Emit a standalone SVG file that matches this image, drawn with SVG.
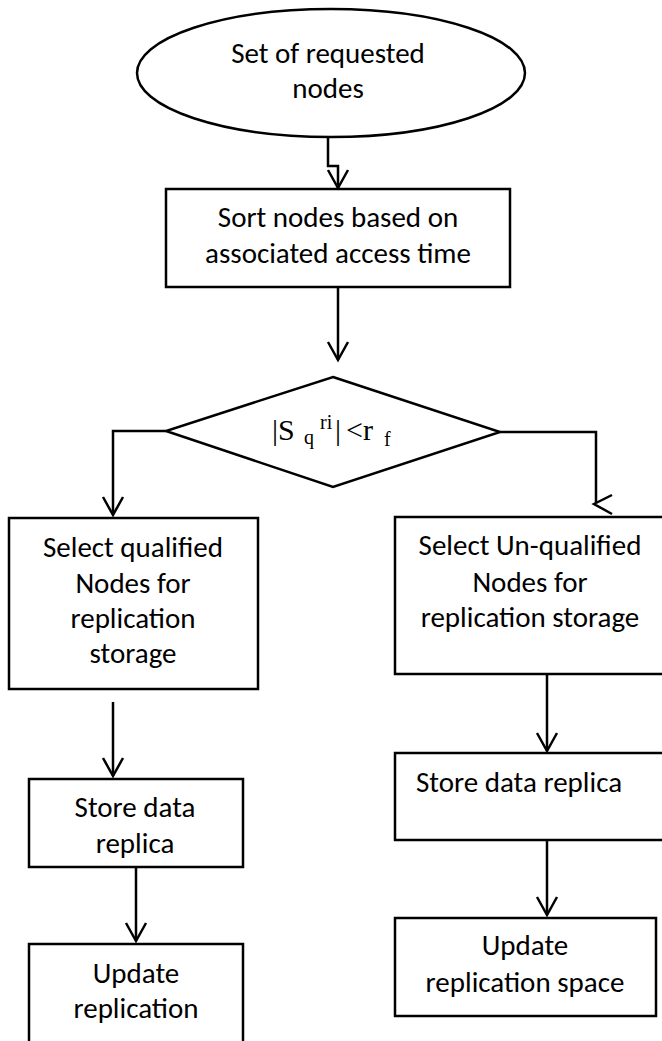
<svg xmlns="http://www.w3.org/2000/svg" width="662" height="1041" viewBox="0 0 662 1041">
<style>
.shape{fill:#fff;stroke:#000;stroke-width:2.5}
.t{font-family:Carlito,Lato,"Liberation Sans",sans-serif;font-size:29px;fill:#000;text-anchor:middle}
.m{font-family:"Liberation Serif","Times New Roman",serif;fill:#000}
.c{fill:none;stroke:#000;stroke-width:2.5}
</style>
<defs>
<marker id="arr" viewBox="-21 -12 24 24" refX="0" refY="0" markerWidth="24" markerHeight="24" orient="auto" markerUnits="userSpaceOnUse">
<path d="M-18,-10 L0,0 L-18,10" fill="none" stroke="#000" stroke-width="2.5"/>
</marker>
</defs>
<rect width="662" height="1041" fill="#fff"/>
<g id="start">
<ellipse class="shape" cx="331" cy="73" rx="194" ry="64"/>
<text class="t" x="328" y="63">Set of requested</text>
<text class="t" x="328" y="98">nodes</text>
</g>
<g id="sort">
<rect class="shape" x="166" y="189" width="344" height="98"/>
<text class="t" x="338" y="227">Sort nodes based on</text>
<text class="t" x="338" y="263">associated access time</text>
</g>
<g id="decision">
<polygon class="shape" points="333,377 500,432 333,487 166,431"/>
<text class="m"><tspan x="272" y="440" font-size="30">|S</tspan><tspan x="304" y="444" font-size="20">q</tspan><tspan x="320" y="429" font-size="20">ri</tspan><tspan x="335" y="440" font-size="30">|</tspan><tspan x="346" y="440" font-size="30">&lt;r</tspan><tspan x="384" y="446" font-size="20">f</tspan></text>
</g>
<g id="select-qualified">
<rect class="shape" x="9" y="518" width="249" height="171"/>
<text class="t" x="133" y="557">Select qualified</text>
<text class="t" x="133" y="593">Nodes for</text>
<text class="t" x="133" y="628">replication</text>
<text class="t" x="133" y="663">storage</text>
</g>
<g id="select-unqualified">
<rect class="shape" x="395" y="517" width="290" height="157"/>
<text class="t" x="530" y="555">Select Un-qualified</text>
<text class="t" x="530" y="592">Nodes for</text>
<text class="t" x="530" y="627">replication storage</text>
</g>
<g id="store-left">
<rect class="shape" x="29" y="779" width="214" height="88"/>
<text class="t" x="135" y="817">Store data</text>
<text class="t" x="135" y="853">replica</text>
</g>
<g id="store-right">
<rect class="shape" x="395" y="753" width="290" height="87"/>
<text class="t" x="416" y="792" style="text-anchor:start">Store data replica</text>
</g>
<g id="update-left">
<rect class="shape" x="29" y="944" width="214" height="130"/>
<text class="t" x="136" y="983">Update</text>
<text class="t" x="136" y="1018">replication</text>
</g>
<g id="update-right">
<rect class="shape" x="395" y="918" width="261" height="98"/>
<text class="t" x="525" y="955">Update</text>
<text class="t" x="525" y="992">replication space</text>
</g>
<g id="connectors">
<path class="c" d="M328,138 V166 H338 V188" marker-end="url(#arr)"/>
<path class="c" d="M338,287 V360" marker-end="url(#arr)"/>
<path class="c" d="M166,431 H113 V515" marker-end="url(#arr)"/>
<path class="c" d="M500,432 H596 V503"/>
<path class="c" d="M612,495 L594,504 L612,514"/>
<path class="c" d="M113,702 V776" marker-end="url(#arr)"/>
<path class="c" d="M136,867 V941" marker-end="url(#arr)"/>
<path class="c" d="M547,674 V751" marker-end="url(#arr)"/>
<path class="c" d="M547,840 V915" marker-end="url(#arr)"/>
</g>
</svg>
